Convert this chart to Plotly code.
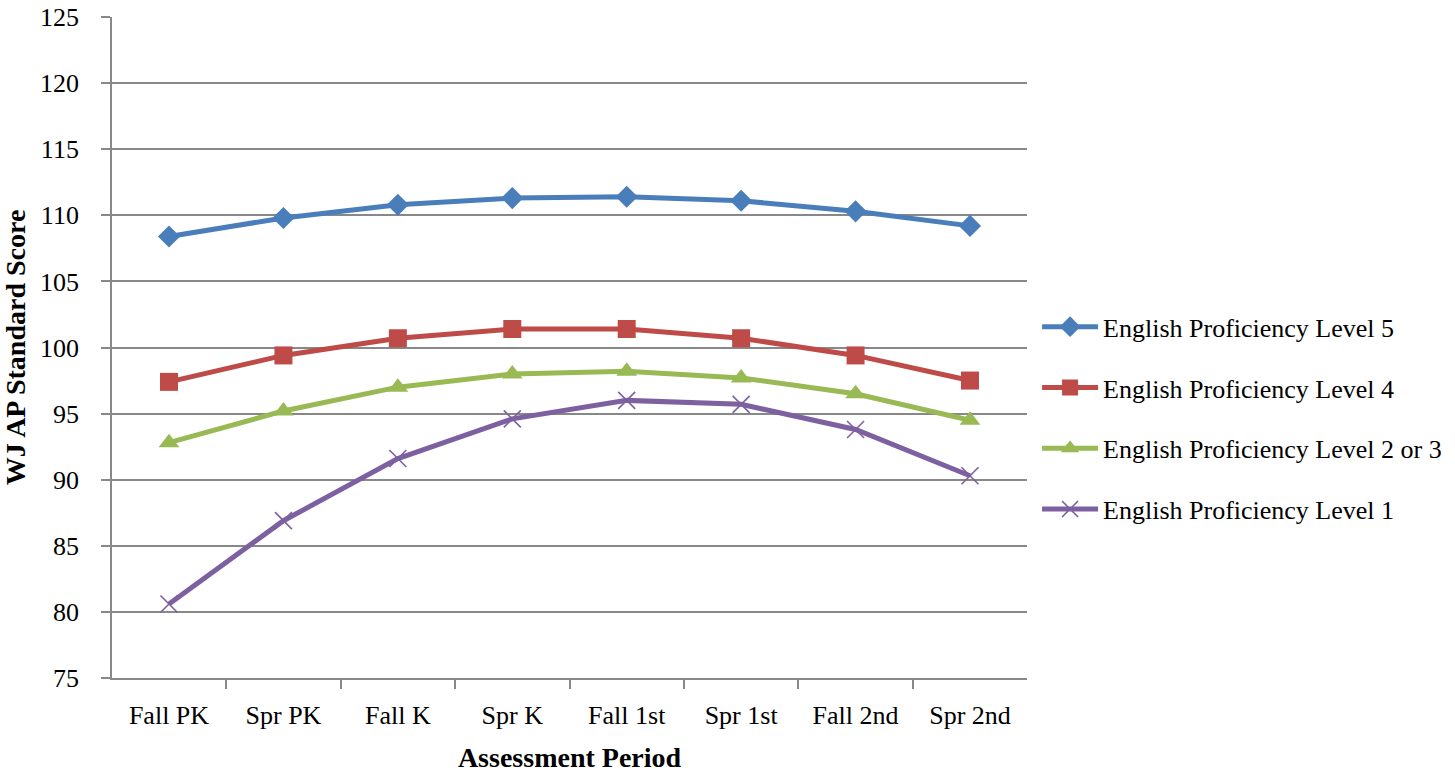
import plotly.graph_objects as go

periods = ["Fall PK", "Spr PK", "Fall K", "Spr K", "Fall 1st", "Spr 1st", "Fall 2nd", "Spr 2nd"]
level5 = [108.4, 109.8, 110.8, 111.3, 111.4, 111.1, 110.3, 109.2]
level4 = [97.4, 99.4, 100.7, 101.4, 101.4, 100.7, 99.4, 97.5]
level23 = [92.8, 95.2, 97.0, 98.0, 98.2, 97.7, 96.5, 94.5]
level1 = [80.6, 86.9, 91.6, 94.6, 96.0, 95.7, 93.8, 90.3]

names = ["English Proficiency Level 5", "English Proficiency Level 4",
         "English Proficiency Level 2 or 3", "English Proficiency Level 1"]
colors = ["#4A7EBB", "#BE4B48", "#98B954", "#7D60A0"]
symbols = ["diamond", "square", "triangle-up", "x-thin"]
sizes = [17, 18, 18, 17]
series = [level5, level4, level23, level1]

FONT = "Liberation Serif"
GRID = "#888888"

fig = go.Figure()
for i, (vals, name, c, s, sz) in enumerate(zip(series, names, colors, symbols, sizes)):
    fig.add_trace(go.Scatter(
        x=periods, y=vals, name=name, mode="lines+markers",
        legendgroup=f"g{i}",
        line=dict(color=c, width=5),
        marker=dict(symbol=s, size=sz, color=c,
                    line=dict(color=c, width=1.6 if s == "x-thin" else 0)),
    ))

fig.update_layout(
    width=1455, height=775,
    margin=dict(l=112, r=428, t=17, b=97, autoexpand=False),
    plot_bgcolor="white", paper_bgcolor="white",
    font=dict(family=FONT, size=26, color="black"),
    showlegend=True,
    legend=dict(x=1.011, y=0.393, xanchor="left", yanchor="middle",
                font=dict(family=FONT, size=26), tracegroupgap=24,
                traceorder="grouped", bgcolor="rgba(0,0,0,0)", itemwidth=56),
)
fig.update_xaxes(
    type="category", showline=True, linecolor=GRID, linewidth=1.8,
    ticks="outside", tickson="boundaries", ticklen=9, tickcolor=GRID, tickwidth=1.8,
    showgrid=False, tickfont=dict(family=FONT, size=26), automargin=False,
    ticklabelstandoff=13, ticklabeloverflow="allow",
    title=dict(text="<b>Assessment Period</b>", font=dict(family=FONT, size=28), standoff=18),
)
fig.update_yaxes(
    range=[75, 125.0001], dtick=5, showline=True, linecolor=GRID, linewidth=1.8,
    ticks="outside", ticklen=9, tickcolor=GRID, tickwidth=1.8,
    showgrid=True, gridcolor=GRID, gridwidth=1.8, zeroline=False,
    tickfont=dict(family=FONT, size=26), automargin=False,
    ticklabelstandoff=17, ticklabeloverflow="allow",
    title=dict(text="<b>WJ AP Standard Score</b>", font=dict(family=FONT, size=28), standoff=19),
)

fig.write_html("out.html", config={"displayModeBar": False},
               post_script="document.body.style.margin='0';")
